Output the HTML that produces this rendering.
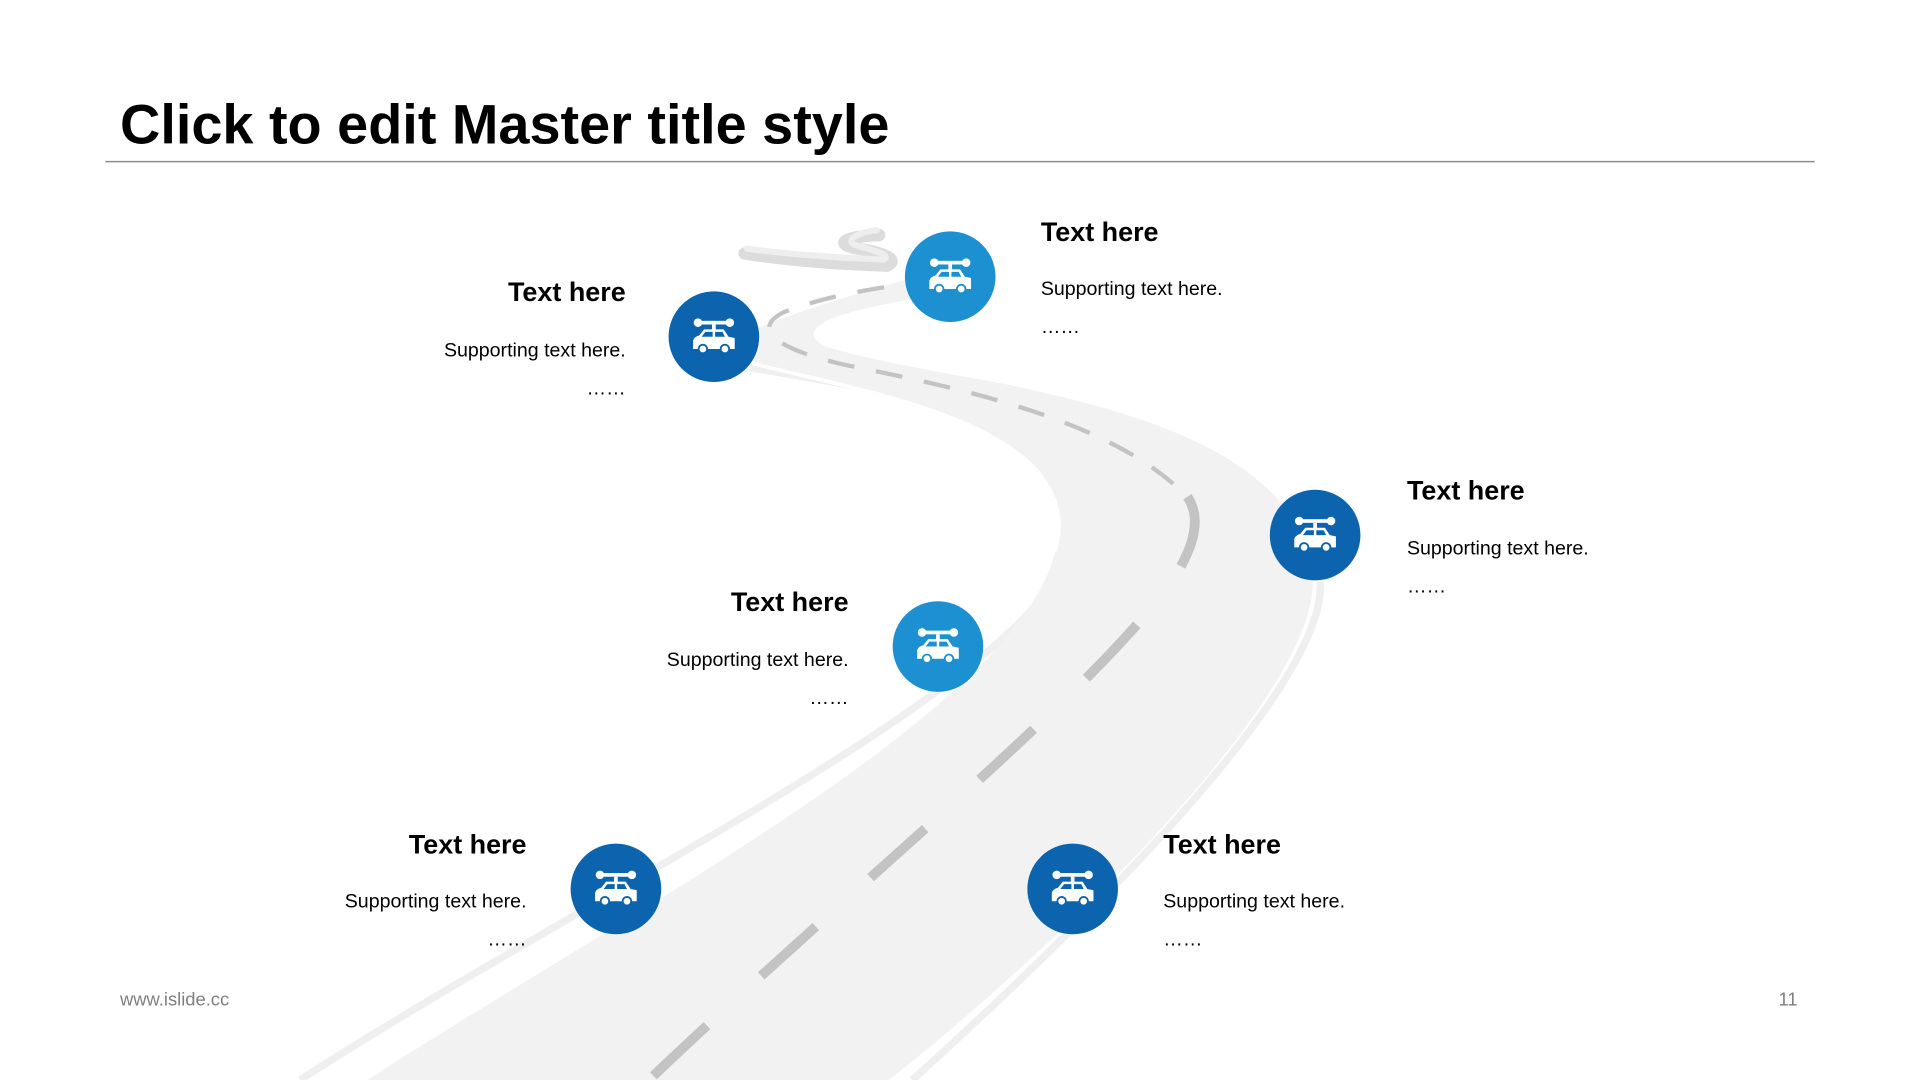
<!DOCTYPE html>
<html><head><meta charset="utf-8"><style>
html,body{margin:0;padding:0;background:#fff;width:1920px;height:1080px;overflow:hidden}
svg{display:block}
text{font-family:"Liberation Sans",Arial,sans-serif}
</style></head><body>
<svg width="1920" height="1080" viewBox="0 0 1568 882" xmlns="http://www.w3.org/2000/svg">
<defs>
<g id="ic">
 <rect x="-11" y="-15" width="22" height="3" fill="#fff"/>
 <circle cx="-13" cy="-13.5" r="3.5" fill="#fff"/><circle cx="13" cy="-13.5" r="3.5" fill="#fff"/>
 <rect x="-1.5" y="-12" width="3" height="5" fill="#fff"/>
 <path d="M-17 8 L-17 1 Q-16 -2 -12 -3 L-8 -8 L8 -8 L12 -2 L17 -1 L17 8 Z" fill="#fff"/>
 <path d="M-7 -6 L-1 -6 L-1 -2 L-10 -2 Z M1 -6 L7 -6 L9 -2 L1 -2 Z" fill="currentColor"/>
 <circle cx="-9" cy="8" r="3.5" fill="#fff" stroke="currentColor" stroke-width="1.5"/>
 <circle cx="9" cy="8" r="3.5" fill="#fff" stroke="currentColor" stroke-width="1.5"/>
</g>
</defs>
<text x="98" y="117" font-size="45.6" font-weight="bold" fill="#000">Click to edit Master title style</text>
<line x1="86" y1="132" x2="1482" y2="132" stroke="#8c8c8c" stroke-width="1.3"/>

<!-- winding top -->
<path d="M608 207 C650 214,700 216,724 217 C736 212,720 206,700 203 C680 199,690 193,718 192" fill="none" stroke="#dcdcdc" stroke-width="10" stroke-linecap="round"/>
<path d="M610 203 C650 209,700 211,722 212 C728 208,712 204,698 200 C690 196,700 190,716 188" fill="none" stroke="#eeeeee" stroke-width="5" stroke-linecap="round"/>
<!-- road outer stripes -->
<path d="M245 882 C480 730,840 560,873 450 C905 340,720 320,612 300" fill="none" stroke="#efefef" stroke-width="6"/>
<path d="M745 882 C880 760,1085 560,1078 475" fill="none" stroke="#efefef" stroke-width="6"/>
<!-- road body -->
<path d="M300 882 C520 740,830 580,862 450 C890 345,700 320,612 296 L614 270 C660 250,715 236,748 226 L750 245 C690 255,645 268,676 282 C800 318,1055 330,1072 470 C1080 560,880 760,726 882 Z" fill="#f2f2f2"/>
<path d="M612 296 C700 320,890 345,862 450" fill="none" stroke="#fff" stroke-width="3"/>
<path d="M750 245 C690 255,645 268,676 282 C800 318,1040 330,1068 400" fill="none" stroke="#fff" stroke-width="3"/>
<!-- dashes -->
<path d="M530 882 C700 720,900 560,960 470 C985 430,975 410,965 400" fill="none" stroke="#c3c3c3" stroke-width="8" stroke-dasharray="60,60" stroke-dashoffset="-5"/>
<path d="M958 395 C900 345,800 320,700 300 C640 288,610 270,640 255 C670 243,710 236,740 232" fill="none" stroke="#c3c3c3" stroke-width="3.5" stroke-dasharray="22,18"/>

<!-- circles -->
<g><circle cx="583" cy="275" r="37" fill="#0b64ad"/><use href="#ic" x="583" y="277" color="#0b64ad"/></g>
<g><circle cx="776" cy="226" r="37" fill="#1d90d1"/><use href="#ic" x="776" y="228" color="#1d90d1"/></g>
<g><circle cx="1074" cy="437" r="37" fill="#0b64ad"/><use href="#ic" x="1074" y="439" color="#0b64ad"/></g>
<g><circle cx="766" cy="528" r="37" fill="#1d90d1"/><use href="#ic" x="766" y="530" color="#1d90d1"/></g>
<g><circle cx="503" cy="726" r="37" fill="#0b64ad"/><use href="#ic" x="503" y="728" color="#0b64ad"/></g>
<g><circle cx="876" cy="726" r="37" fill="#0b64ad"/><use href="#ic" x="876" y="728" color="#0b64ad"/></g>

<g font-size="22" font-weight="bold" fill="#000">
 <text x="511" y="246" text-anchor="end">Text here</text>
 <text x="850" y="197">Text here</text>
 <text x="1149" y="408">Text here</text>
 <text x="693" y="499" text-anchor="end">Text here</text>
 <text x="430" y="697" text-anchor="end">Text here</text>
 <text x="950" y="697">Text here</text>
</g>
<g font-size="16" fill="#000">
 <text x="511" y="291" text-anchor="end">Supporting text here.</text>
 <text x="511" y="322" text-anchor="end">……</text>
 <text x="850" y="241">Supporting text here.</text>
 <text x="850" y="272">……</text>
 <text x="1149" y="453">Supporting text here.</text>
 <text x="1149" y="484">……</text>
 <text x="693" y="544" text-anchor="end">Supporting text here.</text>
 <text x="693" y="575" text-anchor="end">……</text>
 <text x="430" y="741" text-anchor="end">Supporting text here.</text>
 <text x="430" y="772" text-anchor="end">……</text>
 <text x="950" y="741">Supporting text here.</text>
 <text x="950" y="772">……</text>
</g>
<text x="98" y="821" font-size="15" fill="#7f7f7f">www.islide.cc</text>
<text x="1468" y="821" font-size="15" fill="#7f7f7f" text-anchor="end">11</text>
</svg>
</body></html>
